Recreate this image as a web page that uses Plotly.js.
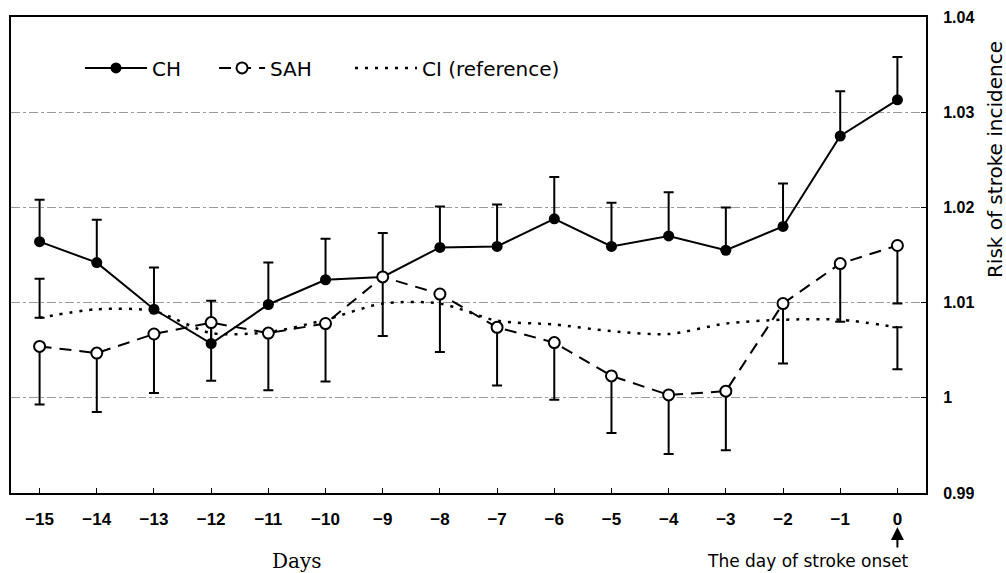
<!DOCTYPE html>
<html>
<head>
<meta charset="utf-8">
<script src="https://cdn.plot.ly/plotly-3.0.1.min.js"></script>
<style>html,body{margin:0;padding:0;background:#fff;}#chart{width:1006px;height:573px;}</style>
</head>
<body>
<div id="chart"></div>
<script>
// ---- data ----
const days = [-15,-14,-13,-12,-11,-10,-9,-8,-7,-6,-5,-4,-3,-2,-1,0];
const dayLabels = ["\u221215","\u221214","\u221213","\u221212","\u221211","\u221210","\u22129","\u22128","\u22127","\u22126","\u22125","\u22124","\u22123","\u22122","\u22121","0"];

const chRisk  = [1.0164,1.0142,1.0093,1.0057,1.0098,1.0124,1.0127,1.0158,1.0159,1.0188,1.0159,1.0170,1.0155,1.0180,1.0275,1.0313];
const chErrUp = [0.0044,0.0045,0.0044,0.0045,0.0044,0.0043,0.0046,0.0043,0.0044,0.0044,0.0046,0.0046,0.0045,0.0045,0.0047,0.0045];

const sahRisk   = [1.0054,1.0047,1.0067,1.0079,1.0068,1.0078,1.0127,1.0109,1.0074,1.0058,1.0023,1.0003,1.0007,1.0099,1.0141,1.0160];
const sahErrLow = [0.0061,0.0062,0.0062,0.0061,0.0060,0.0061,0.0062,0.0061,0.0061,0.0060,0.0060,0.0062,0.0062,0.0063,0.0061,0.0061];

const ciRisk = [1.0084,1.0093,1.0091,1.0068,1.0069,1.0082,1.0099,1.0099,1.0081,1.0077,1.0070,1.0067,1.0078,1.0082,1.0082,1.0074];
const ciEndErrUp  = [0.0041,0];
const ciEndErrLow = [0,0.0044];

const yTickVals = [0.99,1.00,1.01,1.02,1.03,1.04];
const yTickText = ["0.99","1","1.01","1.02","1.03","1.04"];

const seriesNames = ["CH","SAH","CI (reference)"];
// -------------------------------------------------

const zeros = days.map(() => 0);

const traces = [
  {
    x: days, y: ciRisk, name: seriesNames[2], mode: "lines", legend: "legend3",
    line: {color: "#000", width: 2.5, dash: "3px,7px", shape: "spline", smoothing: 0.8}
  },
  {
    x: [days[0], days[days.length-1]], y: [ciRisk[0], ciRisk[ciRisk.length-1]],
    mode: "markers", showlegend: false, marker: {size: 1, opacity: 0},
    error_y: {type: "data", symmetric: false, array: ciEndErrUp, arrayminus: ciEndErrLow, color: "#000", thickness: 2, width: 5}
  },
  {
    x: days, y: chRisk, name: seriesNames[0], mode: "lines+markers", legend: "legend",
    line: {color: "#000", width: 2},
    marker: {symbol: "circle", size: 11, color: "#000"},
    error_y: {type: "data", symmetric: false, array: chErrUp, arrayminus: zeros, color: "#000", thickness: 2, width: 5}
  },
  {
    x: days, y: sahRisk, name: seriesNames[1], mode: "lines+markers", legend: "legend2",
    line: {color: "#000", width: 2, dash: "12px,8px"},
    marker: {symbol: "circle", size: 11, color: "#fff", line: {color: "#000", width: 2}},
    error_y: {type: "data", symmetric: false, array: zeros, arrayminus: sahErrLow, color: "#000", thickness: 2, width: 5}
  }
];

const legendBase = {
  orientation: "h", xanchor: "left", y: 0.893, yanchor: "middle",
  font: {family: "DejaVu Sans", size: 20, color: "#000"},
  bgcolor: "rgba(0,0,0,0)"
};

const layout = {
  width: 1006, height: 573,
  margin: {l: 11, r: 80, t: 17, b: 80},
  paper_bgcolor: "#fff", plot_bgcolor: "#fff",
  showlegend: true,
  legend:  Object.assign({}, legendBase, {x: 0.0754, itemwidth: 62}),
  legend2: Object.assign({}, legendBase, {x: 0.2219, itemwidth: 46}),
  legend3: Object.assign({}, legendBase, {x: 0.3705, itemwidth: 62}),
  xaxis: {
    range: [-15.5, 0.5], tickmode: "array", tickvals: days, ticktext: dayLabels,
    ticks: "inside", ticklen: 5, tickcolor: "#000", tickwidth: 1,
    showgrid: false, zeroline: false,
    showline: true, mirror: true, linecolor: "#000", linewidth: 2,
    tickfont: {family: "Liberation Sans", size: 17, color: "#000", weight: "bold"},
    ticklabelstandoff: 10, fixedrange: true
  },
  yaxis: {
    side: "right", range: [0.99, 1.04], tickmode: "array", tickvals: yTickVals, ticktext: yTickText,
    ticks: "inside", ticklen: 5, tickcolor: "#000",
    showgrid: true, gridcolor: "#9a9a9a", gridwidth: 1, griddash: "dashdot",
    zeroline: false,
    showline: true, mirror: true, linecolor: "#000", linewidth: 2,
    tickfont: {family: "Liberation Sans", size: 16, color: "#000", weight: "bold"},
    ticklabelstandoff: 12, fixedrange: true
  },
  annotations: [
    {xref: "paper", yref: "paper", x: 1.0755, y: 0.6996, text: "Risk of stroke incidence",
     textangle: -90, showarrow: false, xanchor: "center", yanchor: "middle",
     font: {family: "DejaVu Sans", size: 20, color: "#000"}},
    {xref: "paper", yref: "paper", x: 0.3126, y: -0.1429, text: "Days",
     showarrow: false, xanchor: "center", yanchor: "middle",
     font: {family: "DejaVu Serif", size: 20, color: "#000"}},
    {xref: "paper", yref: "paper", x: 0.871, y: -0.143, text: "The day of stroke onset",
     showarrow: false, xanchor: "center", yanchor: "middle",
     font: {family: "DejaVu Sans", size: 17, color: "#000"}},
    {xref: "x", yref: "paper", x: days[days.length-1], y: -0.0714, text: "",
     showarrow: true, arrowhead: 2, arrowsize: 1.3, arrowwidth: 2, arrowcolor: "#000",
     ax: 0, ay: 22}
  ]
};

Plotly.newPlot("chart", traces, layout, {displayModeBar: false, staticPlot: true});
</script>
</body>
</html>
